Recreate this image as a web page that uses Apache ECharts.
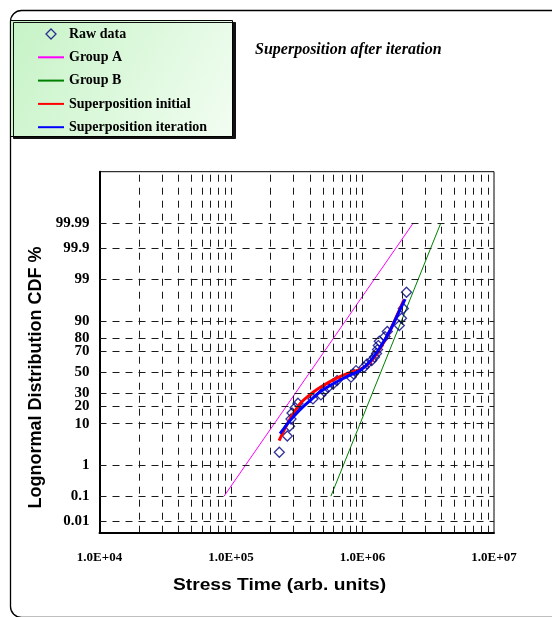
<!DOCTYPE html>
<html>
<head>
<meta charset="utf-8">
<script src="https://cdn.jsdelivr.net/npm/echarts@6/dist/echarts.min.js"></script>
<style>
  html, body { margin: 0; padding: 0; background: #fff; }
  #chart { width: 552px; height: 617px; }
</style>
</head>
<body>
<div id="chart"></div>
<script>
// Failure times (arb. units) and cumulative failure percentages
const rawTime = [2.33e5, 2.68e5, 2.79e5, 2.86e5, 2.91e5, 3.07e5, 3.23e5, 4.20e5, 4.83e5, 5.10e5,
                 5.47e5, 5.97e5, 6.40e5, 8.18e5, 8.54e5, 8.93e5, 1.027e6, 1.082e6, 1.175e6, 1.234e6,
                 1.278e6, 1.301e6, 1.319e6, 1.342e6, 1.483e6, 1.544e6, 1.905e6, 1.980e6, 2.044e6, 2.161e6];
const rawPct = [2.3, 5.6, 8.9, 12.2, 15.5, 18.8, 22.0, 25.3, 28.6, 31.9,
                35.2, 38.5, 41.8, 45.1, 48.4, 51.6, 54.9, 58.2, 61.5, 64.8,
                68.1, 71.4, 74.7, 78.0, 81.3, 84.5, 87.8, 91.1, 94.4, 97.7];

// Single-mode lognormal fits (end points)
const groupATime = [8.85e4, 2.43e6];
const groupAPct = [0.1, 99.99];
const groupBTime = [5.75e5, 3.94e6];
const groupBPct = [0.1, 99.99];

// Superposition of both groups, before and after iteration
const initTime = [2.32e5, 2.57e5, 2.91e5, 3.35e5, 3.99e5, 4.75e5, 5.66e5, 6.75e5, 8.03e5, 9.57e5,
                  1.14e6, 1.36e6, 1.62e6, 1.93e6, 2.07e6];
const initPct = [4.4, 8.0, 14.0, 21.7, 28.9, 35.1, 40.8, 45.7, 49.7, 52.7,
                 59.6, 72.3, 85.1, 94.4, 96.5];
const iterTime = [2.36e5, 2.81e5, 3.35e5, 3.99e5, 4.75e5, 5.66e5, 6.75e5, 8.03e5, 9.57e5, 1.14e6,
                  1.36e6, 1.62e6, 1.93e6, 2.11e6];
const iterPct = [6.3, 11.4, 17.6, 24.0, 31.1, 37.0, 42.3, 47.2, 51.7, 60.5,
                 73.1, 85.1, 94.1, 96.6];

// Probability axis ticks
const yTickPct = [0.01, 0.1, 1, 10, 20, 30, 50, 70, 80, 90, 99, 99.9, 99.99];
const yTickLabels = ['0.01', '0.1', '1', '10', '20', '30', '50', '70', '80', '90', '99', '99.9', '99.99'];
// Time axis decades
const xDecades = [1e4, 1e5, 1e6];

// Inverse standard normal CDF (Acklam), maps a percentage onto the probability scale
function probit(p) {
  const a = [-3.969683028665376e+01, 2.209460984245205e+02, -2.759285104469687e+02, 1.383577518672690e+02, -3.066479806614716e+01, 2.506628277459239e+00];
  const b = [-5.447609879822406e+01, 1.615858368580409e+02, -1.556989798598866e+02, 6.680131188771972e+01, -1.328068155288572e+01];
  const c = [-7.784894002430293e-03, -3.223964580411365e-01, -2.400758277161838e+00, -2.549732539343734e+00, 4.374664141464968e+00, 2.938163982698783e+00];
  const d = [7.784695709041462e-03, 3.224671290700398e-01, 2.445134137142996e+00, 3.754408661907416e+00];
  const pl = 0.02425, ph = 1 - pl;
  let q, r;
  if (p < pl) {
    q = Math.sqrt(-2 * Math.log(p));
    return (((((c[0]*q+c[1])*q+c[2])*q+c[3])*q+c[4])*q+c[5]) / ((((d[0]*q+d[1])*q+d[2])*q+d[3])*q+1);
  }
  if (p <= ph) {
    q = p - 0.5; r = q * q;
    return (((((a[0]*r+a[1])*r+a[2])*r+a[3])*r+a[4])*r+a[5])*q / (((((b[0]*r+b[1])*r+b[2])*r+b[3])*r+b[4])*r+1);
  }
  q = Math.sqrt(-2 * Math.log(1 - p));
  return -(((((c[0]*q+c[1])*q+c[2])*q+c[3])*q+c[4])*q+c[5]) / ((((d[0]*q+d[1])*q+d[2])*q+d[3])*q+1);
}
const z = pct => probit(pct / 100);
const pairs = (ts, ps) => ts.map((t, i) => [t, z(ps[i])]);

const yTickZ = yTickPct.map(z);
function tickLabel(v) {
  let best = 0;
  yTickZ.forEach((t, i) => { if (Math.abs(t - v) < Math.abs(yTickZ[best] - v)) best = i; });
  return yTickLabels[best];
}

// Dashed grid: horizontal at each probability tick, vertical at 1..9 per decade
const gridDash = { color: '#1a1a1a', width: 1, type: [7, 6] };
const vLines = [];
xDecades.forEach(dec => {
  for (let m = 1; m <= 9; m++) {
    const v = dec * m;
    if (v > xDecades[0]) vLines.push({ xAxis: v });
  }
});
const hLines = yTickZ.map(v => ({ yAxis: v }));

const serif = '"Liberation Serif", "Times New Roman", serif';
const sans = '"Liberation Sans", Arial, sans-serif';
const hideMarker = { opacity: 0 };

const chart = echarts.init(document.getElementById('chart'), null, { renderer: 'canvas' });
chart.setOption({
  animation: false,
  backgroundColor: '#fff',
  title: {
    text: 'Superposition after iteration',
    left: 255, top: 42, padding: 0,
    textStyle: { fontFamily: serif, fontStyle: 'italic', fontWeight: 'bold', fontSize: 16, color: '#000' }
  },
  legend: {
    orient: 'vertical',
    left: 37, top: 27, padding: 0,
    itemWidth: 26, itemHeight: 10, itemGap: 9.3,
    symbolKeepAspect: true,
    textStyle: { fontFamily: serif, fontWeight: 'bold', fontSize: 14, color: '#000' },
    data: [
      { name: 'Raw data', icon: 'path://M4,0 L8,4 L4,8 L0,4 Z',
        itemStyle: { color: 'rgba(255,255,255,0)', borderColor: '#000080', borderWidth: 1.3 } },
      { name: 'Group A', itemStyle: hideMarker },
      { name: 'Group B', itemStyle: hideMarker },
      { name: 'Superposition initial', itemStyle: hideMarker },
      { name: 'Superposition iteration', itemStyle: hideMarker }
    ]
  },
  graphic: [
    {
      type: 'rect', z: 0, silent: true,
      shape: { x: 10.5, y: 10.5, width: 600, height: 607, r: 11 },
      style: { fill: 'none', stroke: '#000', lineWidth: 1.3 }
    },
    {
      type: 'rect', z: 1, silent: true,
      shape: { x: 10.5, y: 20.5, width: 222, height: 116 },
      style: {
        fill: new echarts.graphic.LinearGradient(0, 0, 1, 1, [
          { offset: 0, color: '#c6f3c6' },
          { offset: 1, color: '#f2fdf2' }
        ]),
        stroke: '#000', lineWidth: 1,
        shadowColor: '#111', shadowOffsetX: 3, shadowOffsetY: 2, shadowBlur: 0
      }
    },
    {
      type: 'text', silent: true,
      x: 36, y: 377.5, rotation: Math.PI / 2,
      style: { text: 'Lognormal Distribution CDF %', font: 'bold 18px ' + sans, fill: '#000', align: 'center', verticalAlign: 'middle' }
    },
    {
      type: 'text', silent: true,
      x: 279.5, y: 585.5, scaleX: 1.2,
      style: { text: 'Stress Time (arb. units)', font: 'bold 16px ' + sans, fill: '#000', align: 'center', verticalAlign: 'middle' }
    }
  ],
  grid: {
    left: 99.5, top: 171.7, right: 58, bottom: 84.3,
    show: true, borderColor: '#000', borderWidth: 1, backgroundColor: '#fff'
  },
  xAxis: {
    type: 'log', logBase: 10, min: 1e4, max: 1e7,
    axisLine: { show: true, onZero: false, lineStyle: { color: '#000', width: 2 } },
    axisTick: { show: false },
    splitLine: { show: false },
    axisLabel: {
      margin: 18, color: '#000', fontFamily: serif, fontWeight: 'bold', fontSize: 13,
      formatter: v => '1.0E+' + String(Math.round(Math.log10(v))).padStart(2, '0')
    }
  },
  yAxis: {
    type: 'value', min: -4, max: 5,
    axisLine: { show: true, onZero: false, lineStyle: { color: '#000', width: 2 } },
    axisTick: { show: false },
    splitLine: { show: false },
    axisLabel: {
      customValues: yTickZ,
      margin: 10, color: '#000', fontFamily: serif, fontWeight: 'bold', fontSize: 15,
      formatter: v => tickLabel(v)
    }
  },
  series: [
    {
      name: 'grid', type: 'line', data: [], silent: true, z: 1,
      markLine: {
        silent: true, symbol: ['none', 'none'], label: { show: false },
        lineStyle: gridDash, emphasis: { disabled: true },
        data: vLines.concat(hLines)
      }
    },
    {
      name: 'Raw data', type: 'scatter', z: 3,
      symbol: 'diamond', symbolSize: 10,
      itemStyle: { color: 'rgba(255,255,255,0)', borderColor: '#000080', borderWidth: 1.3 },
      data: pairs(rawTime, rawPct)
    },
    {
      name: 'Group A', type: 'line', z: 2, symbol: 'none',
      lineStyle: { color: '#ff00ff', width: 1 }, itemStyle: { color: '#ff00ff' },
      data: pairs(groupATime, groupAPct)
    },
    {
      name: 'Group B', type: 'line', z: 2, symbol: 'none',
      lineStyle: { color: '#008000', width: 1 }, itemStyle: { color: '#008000' },
      data: pairs(groupBTime, groupBPct)
    },
    {
      name: 'Superposition initial', type: 'line', z: 4, symbol: 'none', smooth: 0.3,
      lineStyle: { color: '#ff0000', width: 3 }, itemStyle: { color: '#ff0000' },
      data: pairs(initTime, initPct)
    },
    {
      name: 'Superposition iteration', type: 'line', z: 5, symbol: 'none', smooth: 0.3,
      lineStyle: { color: '#0000ff', width: 3 }, itemStyle: { color: '#0000ff' },
      data: pairs(iterTime, iterPct)
    }
  ]
});
</script>
</body>
</html>
